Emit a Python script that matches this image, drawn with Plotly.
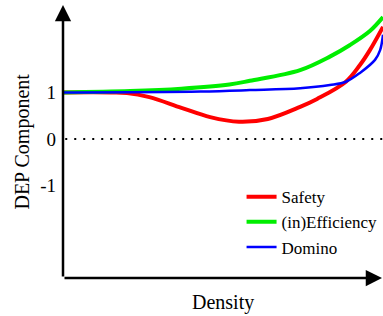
import plotly.graph_objects as go

# Data (density in arbitrary units 0..10, DEP component values)
safety_x = [0, 1.5, 2.0, 2.7, 3.7, 4.6, 5.5, 6.4, 7.41, 7.94, 8.84, 9.28, 9.59, 10.0]
safety_y = [1.0, 1.0, 0.99, 0.90, 0.67, 0.47, 0.37, 0.43, 0.69, 0.86, 1.23, 1.59, 1.91, 2.41]

eff_x = [0, 2.1, 3.7, 5.2, 5.84, 7.41, 8.34, 8.97, 9.59, 10.0]
eff_y = [1.0, 1.03, 1.08, 1.17, 1.25, 1.48, 1.77, 2.02, 2.32, 2.62]

dom_x = [0, 4.3, 5.84, 7.41, 8.34, 8.84, 9.28, 9.75, 9.91, 10.0]
dom_y = [1.0, 1.02, 1.05, 1.09, 1.16, 1.23, 1.42, 1.70, 1.91, 2.24]

y_ticks = [-1, 0, 1]
y_ticklabels = ["-1", "0", "1"]

FONT = "Liberation Serif"

fig = go.Figure()
fig.add_trace(go.Scatter(x=safety_x, y=safety_y, mode="lines", name="Safety",
                         line=dict(color="#ff0000", width=4, shape="spline")))
fig.add_trace(go.Scatter(x=eff_x, y=eff_y, mode="lines", name="(in)Efficiency",
                         line=dict(color="#00ee00", width=4, shape="spline")))
fig.add_trace(go.Scatter(x=dom_x, y=dom_y, mode="lines", name="Domino",
                         line=dict(color="#0000ff", width=2.5, shape="spline")))

# dotted zero line
fig.add_shape(type="line", xref="x", yref="y", x0=0.07, x1=10, y0=0, y1=0,
              line=dict(color="black", width=2, dash="2px,7px"))

# axes with arrows
fig.add_annotation(xref="paper", yref="paper", x=0, y=1, ax=0, ay=273,
                   axref="pixel", ayref="pixel", text="", showarrow=True,
                   arrowhead=2, arrowsize=1.3, arrowwidth=2.5, arrowcolor="black", standoff=0)
fig.add_annotation(xref="paper", yref="paper", x=1, y=0, ax=-320, ay=0,
                   axref="pixel", ayref="pixel", text="", showarrow=True,
                   arrowhead=2, arrowsize=1.3, arrowwidth=2.5, arrowcolor="black", standoff=0)

fig.add_annotation(xref="paper", yref="paper", x=-0.128, y=0.5, text="DEP Component",
                   xanchor="center", yanchor="middle",
                   textangle=-90, showarrow=False, font=dict(family=FONT, size=20, color="black"))
fig.add_annotation(xref="paper", yref="paper", x=0.5, y=-0.088, text="Density",
                   xanchor="center", yanchor="middle",
                   showarrow=False, font=dict(family=FONT, size=20, color="black"))

fig.update_layout(
    width=383, height=316,
    margin=dict(l=63, r=0, t=5, b=38),
    paper_bgcolor="white", plot_bgcolor="white",
    showlegend=True,
    legend=dict(x=0.558, y=0.362, xanchor="left", yanchor="top",
                font=dict(family=FONT, size=17, color="black"),
                bgcolor="rgba(0,0,0,0)", tracegroupgap=0, itemwidth=30,
                borderwidth=0),
    xaxis=dict(range=[0, 10], showgrid=False, zeroline=False, showticklabels=False,
               showline=False, ticks=""),
    yaxis=dict(range=[-2.99, 2.88], showgrid=False, zeroline=False, showline=False,
               tickvals=y_ticks, ticktext=y_ticklabels, ticks="",
               tickfont=dict(family=FONT, size=19, color="black"), ticklabelstandoff=6),
    font=dict(family=FONT),
)

fig.write_html("out.html", config={"displayModeBar": False},
               post_script="document.body.style.margin='0';")
